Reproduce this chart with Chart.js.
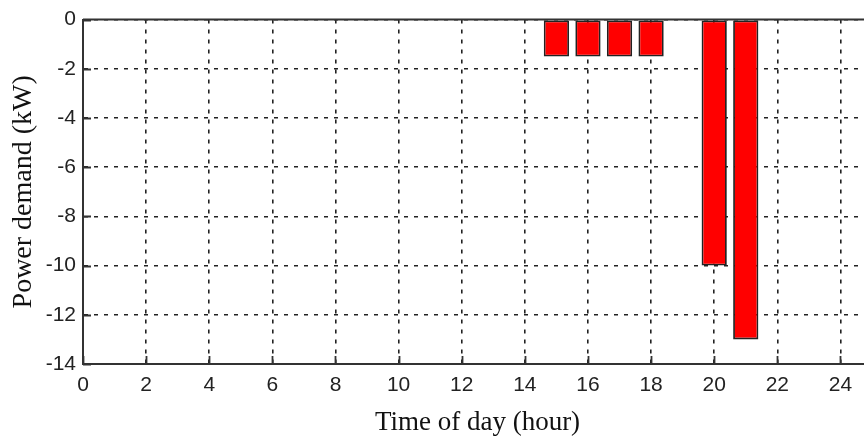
<!DOCTYPE html>
<html>
<head>
<meta charset="utf-8">
<script src="https://cdn.jsdelivr.net/npm/chart.js@4/dist/chart.umd.min.js"></script>
<style>
  html, body { margin: 0; padding: 0; background: #fff; overflow: hidden; }
</style>
</head>
<body>
<canvas id="myChart" width="880" height="439"></canvas>
<script>
'use strict';

//////////////// chart data ///////////////////

const hours = [15, 16, 17, 18, 20, 21];
const demand = [-1.5, -1.5, -1.5, -1.5, -10, -13];

const xTicks = [0, 2, 4, 6, 8, 10, 12, 14, 16, 18, 20, 22, 24];
const yTicks = [0, -2, -4, -6, -8, -10, -12, -14];

const xTitle = 'Time of day (hour)';
const yTitle = 'Power demand (kW)';

//////////////// frame + inside tick marks (matlab look) ///////////////////

const framePlugin = {
  id: 'frame',
  afterDraw(chart) {
    const ctx = chart.ctx;
    const area = chart.chartArea;
    const x = chart.scales.x;
    const y = chart.scales.y;
    ctx.save();
    ctx.strokeStyle = '#333';
    ctx.lineWidth = 2;
    ctx.setLineDash([]);
    ctx.beginPath();
    ctx.moveTo(area.left, area.top);
    ctx.lineTo(area.right, area.top);
    ctx.stroke();

    // short solid ticks pointing into the plot
    ctx.lineWidth = 1.8;
    ctx.beginPath();
    for (let i = 0; i < xTicks.length; i++) {
      let px = Math.round(x.getPixelForValue(xTicks[i])) + 0.5;
      ctx.moveTo(px, area.bottom);
      ctx.lineTo(px, area.bottom - 8);
    }
    for (let i = 0; i < yTicks.length; i++) {
      let py = Math.round(y.getPixelForValue(yTicks[i])) + 0.5;
      ctx.moveTo(area.left, py);
      ctx.lineTo(area.left + 8, py);
    }
    ctx.stroke();
    ctx.restore();
  }
};

//////////////// chart ///////////////////

let points = [];
for (let i = 0; i < hours.length; i++) {
  points.push({ x: hours[i], y: demand[i] });
}

const tickFont = { family: '"Liberation Sans", Arial, sans-serif', size: 21 };
const titleFont = { family: '"Liberation Serif", "Times New Roman", serif', size: 27 };

let ctx = document.getElementById('myChart').getContext('2d');
let myChart = new Chart(ctx, {
  type: 'bar',
  data: {
    datasets: [{
      data: points,
      backgroundColor: '#ff0000',
      borderColor: '#222',
      borderWidth: 1.8,
      borderSkipped: false,
      barPercentage: 0.8,
      categoryPercentage: 1.0
    }]
  },
  options: {
    responsive: false,
    animation: false,
    layout: { padding: { top: 19, right: 8, left: 0, bottom: 0 } },
    plugins: {
      legend: { display: false },
      tooltip: { enabled: false }
    },
    scales: {
      x: {
        type: 'linear',
        min: 0,
        max: 25,
        offset: false,
        afterBuildTicks: (scale) => { scale.ticks = xTicks.map(v => ({ value: v })); },
        afterFit: (scale) => { scale.height = 75; },
        grid: {
          offset: false,
          color: '#222',
          lineWidth: 1.6,
          drawTicks: false
        },
        border: { display: true, color: '#333', width: 2, dash: [4, 6] },
        ticks: { color: '#222', font: tickFont, padding: 9, maxRotation: 0, autoSkip: false },
        title: { display: true, text: xTitle, color: '#111', font: titleFont, padding: { top: 0, bottom: 0 } }
      },
      y: {
        min: -14,
        max: 0,
        afterBuildTicks: (scale) => { scale.ticks = yTicks.map(v => ({ value: v })); },
        afterFit: (scale) => { scale.width = 83; },
        grid: {
          color: '#222',
          lineWidth: 1.6,
          drawTicks: false
        },
        border: { display: true, color: '#333', width: 2, dash: [4, 6] },
        ticks: { color: '#222', font: tickFont, padding: 7, autoSkip: false },
        title: { display: true, text: yTitle, color: '#111', font: { family: titleFont.family, size: 28 }, padding: { top: 7, bottom: 0 } }
      }
    }
  },
  plugins: [framePlugin]
});
</script>
</body>
</html>
